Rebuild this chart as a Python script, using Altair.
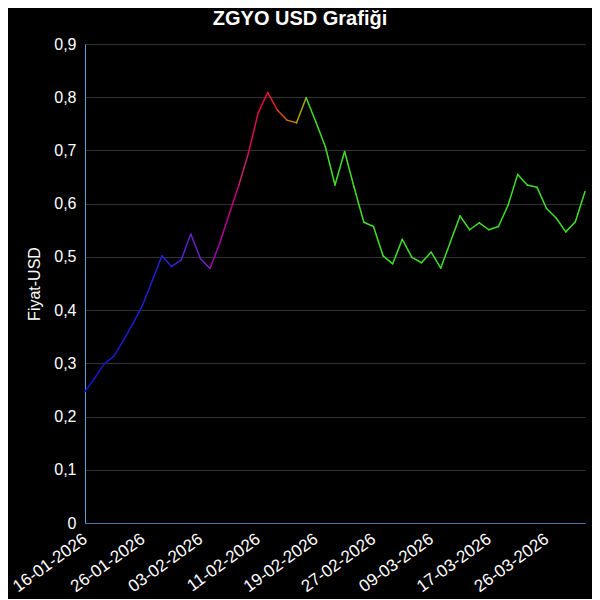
import altair as alt
import pandas as pd

dates = [
    "16-01-2026", "19-01-2026", "20-01-2026", "21-01-2026", "22-01-2026", "23-01-2026",
    "26-01-2026", "27-01-2026", "28-01-2026", "29-01-2026", "30-01-2026", "02-02-2026",
    "03-02-2026", "04-02-2026", "05-02-2026", "06-02-2026", "09-02-2026", "10-02-2026",
    "11-02-2026", "12-02-2026", "13-02-2026", "16-02-2026", "17-02-2026", "18-02-2026",
    "19-02-2026", "20-02-2026", "23-02-2026", "24-02-2026", "25-02-2026", "26-02-2026",
    "27-02-2026", "02-03-2026", "03-03-2026", "04-03-2026", "05-03-2026", "06-03-2026",
    "09-03-2026", "10-03-2026", "11-03-2026", "12-03-2026", "13-03-2026", "16-03-2026",
    "17-03-2026", "18-03-2026", "19-03-2026", "23-03-2026", "24-03-2026", "25-03-2026",
    "26-03-2026", "27-03-2026", "30-03-2026", "31-03-2026", "01-04-2026",
]
values = [
    0.247, 0.272, 0.299, 0.313, 0.343, 0.375, 0.410, 0.455, 0.502, 0.482,
    0.494, 0.543, 0.497, 0.478, 0.525, 0.580, 0.635, 0.695, 0.770, 0.809,
    0.776, 0.757, 0.752, 0.799, 0.754, 0.707, 0.635, 0.698, 0.630, 0.565,
    0.557, 0.502, 0.487, 0.533, 0.499, 0.489, 0.509, 0.479, 0.528, 0.577,
    0.551, 0.564, 0.551, 0.557, 0.597, 0.655, 0.635, 0.631, 0.591, 0.573,
    0.547, 0.566, 0.623,
]
label_dates = dates[::6]

color_stops = [0, 8, 12, 16, 19, 21, 23, 51]
color_range = ["#1414c8", "#2222d8", "#7a22c0", "#c8206a", "#e81c24", "#c8701c", "#44dd22", "#3ee02a"]

segs = pd.DataFrame({
    "date": dates[:-1],
    "date2": dates[1:],
    "v": values[:-1],
    "v2": values[1:],
    "seg": list(range(len(values) - 1)),
})

ylabel = "datum.value == 0 ? '0' : replace(format(datum.value, '.1f'), '.', ',')"

chart = alt.Chart(segs).mark_rule(strokeWidth=1.5, strokeCap="round").encode(
    x=alt.X("date:O", sort=dates, scale=alt.Scale(domain=dates, type="point", padding=0),
            axis=alt.Axis(values=label_dates, title=None, labelAngle=-36, labelColor="white",
                          labelFontSize=17, labelFont="Liberation Sans", labelPadding=14,
                          domainColor="#4a76a8", ticks=False, grid=False, labelAlign="right",
                          labelBaseline="middle", labelBound=False, labelOverlap=False)),
    x2="date2:O",
    y=alt.Y("v:Q", scale=alt.Scale(domain=[0, 0.9]),
            axis=alt.Axis(values=[0, 0.1, 0.2, 0.3, 0.4, 0.5, 0.6, 0.7, 0.8, 0.9],
                          labelExpr=ylabel, title="Fiyat-USD", titleColor="white",
                          titleFontSize=16, titleFontWeight="normal", titleFont="Liberation Sans",
                          labelColor="white", labelFontSize=16, labelFont="Liberation Sans",
                          labelPadding=9, titlePadding=11, domainColor="#5aa0d8",
                          ticks=False, gridColor="#333333", gridWidth=1)),
    y2="v2:Q",
    color=alt.Color("seg:Q", scale=alt.Scale(domain=color_stops, range=color_range), legend=None),
).properties(
    width=500,
    height=479,
    background="black",
    padding={"left": 77, "top": 36, "right": 7, "bottom": 76},
    autosize=alt.AutoSizeParams(type="none"),
    title=alt.Title("ZGYO USD Grafiği", color="white", fontSize=20, font="Liberation Sans",
                    fontWeight="bold", anchor="middle", frame="group", dx=-35, offset=7),
).configure_view(stroke=None)

chart.save("out.html", embed_options={"renderer": "svg", "actions": False})
